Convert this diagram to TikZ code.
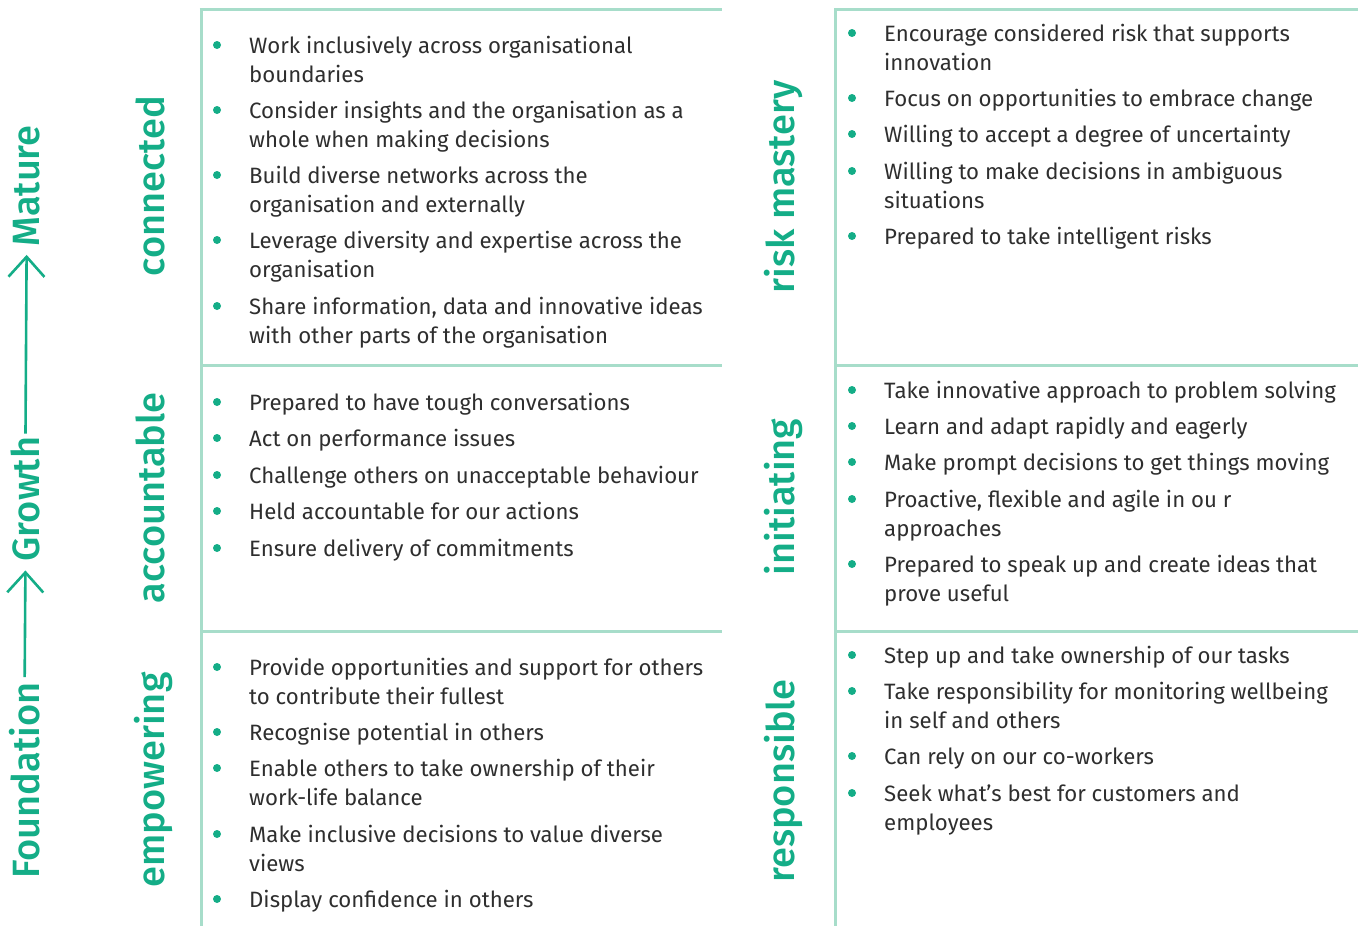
\documentclass[tikz,border=0pt]{standalone}
\usepackage{fontspec}
\usetikzlibrary{arrows.meta}
\setmainfont{Fira Sans}
\IfFontExistsTF{Fira Sans Medium}{\newfontfamily\headfont{Fira Sans Medium}}{\newfontfamily\headfont{Fira Sans}}
\definecolor{leafgreen}{HTML}{14AD87}
\definecolor{rulegreen}{HTML}{A7DDCA}
\definecolor{bodygray}{HTML}{2E2E2E}

% bullet dot plus its text; #2,#3 = baseline start of the first line
\newcommand\entryat[4]{%
  \node[point] (#1dot) at (#2-32,#3-8) {};
  \node[entry] (#1) at (#2,#3) {#4};}
% same for a two-line entry (the node's base is its last line)
\newcommand\entrypair[4]{%
  \node[point] (#1dot) at (#2-32,#3-8) {};
  \node[entry] (#1) at (#2,#3+29) {#4};}

\begin{document}
\begin{tikzpicture}[x=1pt,y=-1pt,
  rule/.style={draw=rulegreen,line width=3pt},
  point/.style={circle,fill=leafgreen,inner sep=0pt,minimum size=8pt},
  entry/.style={anchor=base west,align=left,inner sep=0pt,text=bodygray,
    font=\fontsize{22.2}{29}\selectfont},
  theme/.style={rotate=90,anchor=base,inner sep=0pt,text=leafgreen,
    font=\headfont\fontsize{38}{40}\selectfont},
  axisline/.style={draw=leafgreen,line width=2.6pt,
    -{Straight Barb[length=20pt,width=36pt]}}]
\useasboundingbox (0,0) rectangle (1358,926);

% grid rules
\draw[rule] (201,8) -- (201,926);
\draw[rule] (835.5,8) -- (835.5,926);
\draw[rule] (199.5,9) -- (722,9);
\draw[rule] (834,9) -- (1358,9);
\draw[rule] (201,365.5) -- (722,365.5);
\draw[rule] (835.5,365.5) -- (1358,365.5);
\draw[rule] (201,631) -- (722,631);
\draw[rule] (835.5,631) -- (1358,631);

% growth axis
\node[theme] (found) at (39.5,780.5) {Foundation};
\node[theme] (grow) at (39.5,499) {Growth};
\node[theme] (mature) at (39.5,186) {Mature};
\draw[axisline,shorten <=5pt,shorten >=9pt] (found.east) -- (grow.west);
\draw[axisline,shorten <=3pt,shorten >=8pt] (grow.east) -- (mature.west);

% row headings
\node[theme] (connected) at (164,186) {connected};
\node[theme] (accountable) at (164,498) {accountable};
\node[theme] (empowering) at (164,780) {empowering};
\node[theme] (riskmastery) at (794,187) {risk mastery};
\node[theme] (initiating) at (794,497) {initiating};
\node[theme] (responsible) at (794,781) {responsible};

% connected
\entrypair{ca}{249}{53}{Work inclusively across organisational\\boundaries}
\entrypair{cb}{249}{118}{Consider insights and the organisation as a\\whole when making decisions}
\entrypair{cc}{249}{183}{Build diverse networks across the\\organisation and externally}
\entrypair{cd}{249}{248}{Leverage diversity and expertise across the\\organisation}
\entrypair{ce}{249}{314}{Share information, data and innovative ideas\\with other parts of the organisation}

% accountable
\entryat{aa}{249}{410}{Prepared to have tough conversations}
\entryat{ab}{249}{446}{Act on performance issues}
\entryat{ac}{249}{483}{Challenge others on unacceptable behaviour}
\entryat{ad}{249}{519}{Held accountable for our actions}
\entryat{ae}{249}{556}{Ensure delivery of commitments}

% empowering
\entrypair{ea}{249}{675}{Provide opportunities and support for others\\to contribute their fullest}
\entryat{eb}{249}{740}{Recognise potential in others}
\entrypair{ec}{249}{776}{Enable others to take ownership of their\\work-life balance}
\entrypair{ed}{249}{842}{Make inclusive decisions to value diverse\\views}
\entryat{ee}{249}{907}{Display confidence in others}

% risk mastery
\entrypair{ra}{884}{41}{Encourage considered risk that supports\\innovation}
\entryat{rb}{884}{106}{Focus on opportunities to embrace change}
\entryat{rc}{884}{142}{Willing to accept a degree of uncertainty}
\entrypair{rd}{884}{179}{Willing to make decisions in ambiguous\\situations}
\entryat{re}{884}{244}{Prepared to take intelligent risks}

% initiating
\entryat{ia}{884}{398}{Take innovative approach to problem solving}
\entryat{ib}{884}{434}{Learn and adapt rapidly and eagerly}
\entryat{ic}{884}{470}{Make prompt decisions to get things moving}
\entrypair{id}{884}{507}{Proactive, flexible and agile in ou r\\approaches}
\entrypair{ie}{884}{572}{Prepared to speak up and create ideas that\\prove useful}

% responsible
\entryat{sa}{884}{663}{Step up and take ownership of our tasks}
\entrypair{sb}{884}{699}{Take responsibility for monitoring wellbeing\\in self and others}
\entryat{sc}{884}{764}{Can rely on our co-workers}
\entrypair{sd}{884}{801}{Seek what’s best for customers and\\employees}
\end{tikzpicture}
\end{document}
